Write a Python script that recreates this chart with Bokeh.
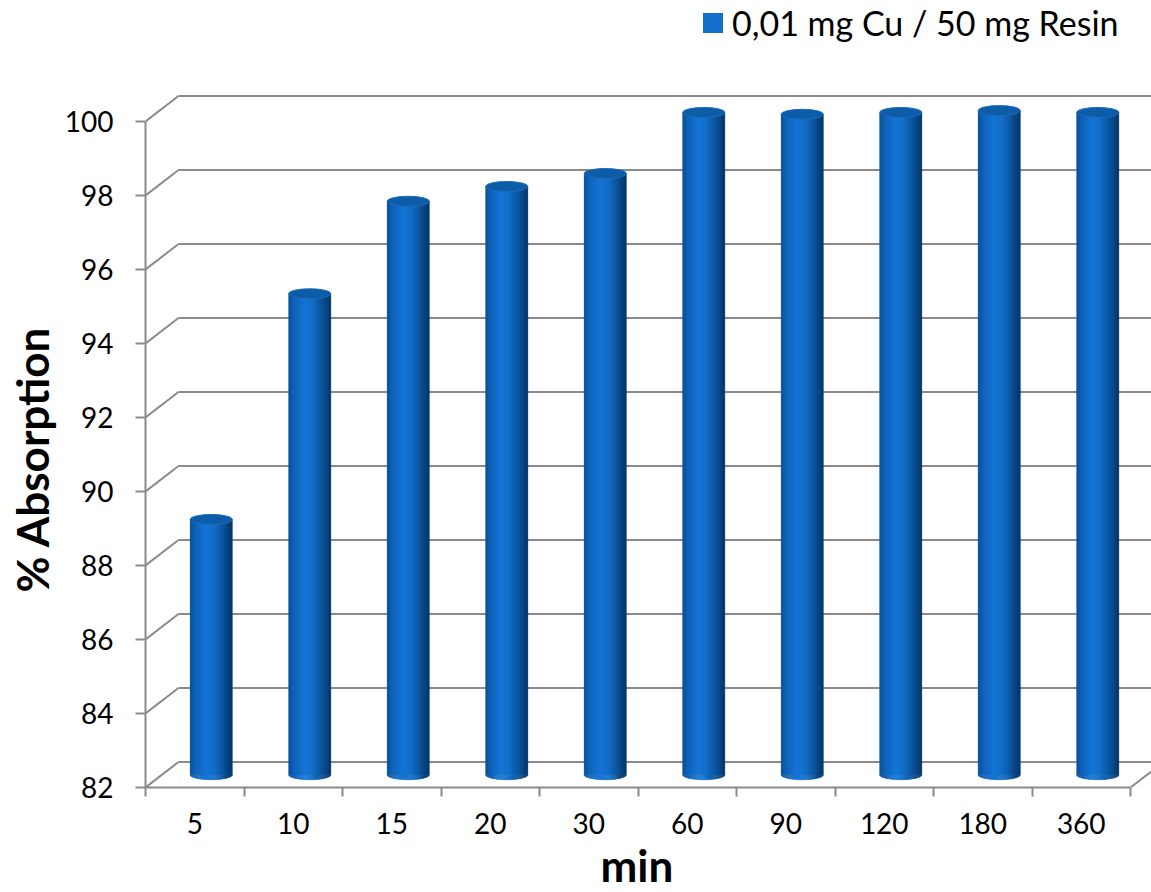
import numpy as np
from bokeh.plotting import figure
from bokeh.models import Range1d, FixedTicker, Legend, LegendItem, Title
from bokeh.embed import file_html
from bokeh.resources import INLINE

# ---- data ----
categories = ["5", "10", "15", "20", "30", "60", "90", "120", "180", "360"]
absorption = [88.9, 95.0, 97.5, 97.9, 98.25, 99.9, 99.85, 99.9, 99.95, 99.9]
y_ticks = [82, 84, 86, 88, 90, 92, 94, 96, 98, 100]
series_name = "0,01 mg Cu / 50 mg Resin"
x_title = "min"
y_title = "% Absorption"

# ---- geometry (3D look) ----
PX_X = 98.5   # px per category
PX_Y = 37.0   # px per % unit
DX = 33 / PX_X        # depth offset in x (data units)
DY = 25.5 / PX_Y      # depth offset in y (data units)
BAR_W = 42 / PX_X
CAP_H = 10 / PX_Y
Y0 = y_ticks[0]
N_CAT = len(categories)
X_END = 1006 / PX_X
Y_END = Y0 + 787 / PX_Y
GRID = "#8a8a8a"
FONT = "Lato"

p = figure(width=1151, height=892, x_range=Range1d(0, X_END), y_range=Range1d(Y0, Y_END),
           output_backend="svg", toolbar_location=None,
           min_border_left=145, min_border_right=0, min_border_top=0, min_border_bottom=105)
p.outline_line_color = None
p.xgrid.visible = False
p.ygrid.visible = False

# perspective gridlines (back wall + side wall)
sx0, sy0, sx1, sy1 = [], [], [], []
for v in y_ticks:
    sx0 += [0, DX]; sy0 += [v, v + DY]
    sx1 += [DX, X_END]; sy1 += [v + DY, v + DY]
sx0.append(N_CAT); sy0.append(Y0); sx1.append(N_CAT + DX); sy1.append(Y0 + DY)
p.segment(x0=sx0, y0=sy0, x1=sx1, y1=sy1, line_color=GRID, line_width=2)

# cylinders
cx = np.arange(N_CAT) + 0.5 + DX / 2
base = Y0 + DY / 2
tops = np.array(absorption) + DY / 2

body = p.quad(left=cx - BAR_W / 2, right=cx + BAR_W / 2, bottom=[base] * N_CAT, top=tops,
              fill_color="#1470cc", line_color=None)

stops_t = [-1.0, -0.75, -0.25, 0.15, 0.6, 1.0]
stops_c = [(12, 80, 150), (16, 98, 182), (22, 118, 214), (20, 110, 200), (13, 82, 152), (7, 52, 100)]
N = 40
te = np.linspace(-1, 1, N + 1)
tm = (te[:-1] + te[1:]) / 2
cols = []
for t in tm:
    rgb = [int(round(np.interp(t, stops_t, [c[k] for c in stops_c]))) for k in range(3)]
    cols.append("#%02x%02x%02x" % tuple(rgb))
L, R, B, T, C = [], [], [], [], []
for i in range(N_CAT):
    for k in range(N):
        L.append(cx[i] + te[k] * BAR_W / 2)
        R.append(cx[i] + te[k + 1] * BAR_W / 2)
        B.append(base - CAP_H / 2 * np.sqrt(max(0.0, 1 - tm[k] ** 2)))
        T.append(tops[i])
        C.append(cols[k])
p.quad(left=L, right=R, bottom=B, top=T, fill_color=C, line_color=C, line_width=0.5)
p.ellipse(x=cx, y=tops, width=BAR_W, height=CAP_H, fill_color="#0d5ca8", line_color="#1a6cbc", line_width=1)

# axes
xa = p.xaxis[0]
xa.ticker = FixedTicker(ticks=[i + 0.5 for i in range(N_CAT)], minor_ticks=list(range(N_CAT + 1)))
xa.major_label_overrides = {i + 0.5: c for i, c in enumerate(categories)}
xa.bounds = (0, N_CAT)
xa.axis_line_color = GRID
xa.axis_line_width = 2
xa.major_tick_line_color = None
xa.minor_tick_line_color = GRID
xa.minor_tick_line_width = 2
xa.minor_tick_in = 0
xa.minor_tick_out = 9
xa.major_label_standoff = 16
xa.major_label_text_font = FONT
xa.major_label_text_font_size = "28px"
xa.major_label_text_color = "black"

ya = p.yaxis[0]
ya.ticker = FixedTicker(ticks=y_ticks, minor_ticks=[])
ya.bounds = (Y0, y_ticks[-1])
ya.axis_line_color = GRID
ya.axis_line_width = 2
ya.major_tick_line_color = GRID
ya.major_tick_line_width = 2
ya.major_tick_in = 0
ya.major_tick_out = 10
ya.minor_tick_line_color = None
ya.major_label_standoff = 22
ya.major_label_text_font = FONT
ya.major_label_text_font_size = "28px"
ya.major_label_text_color = "black"

# axis titles (side-panel titles, aligned to the axis extent)
p.add_layout(Title(text=y_title, align="left", offset=195, standoff=7, text_font=FONT,
                   text_font_style="bold", text_font_size="44px", text_color="black"), "left")
p.add_layout(Title(text=x_title, align="left", offset=455, standoff=0, text_font=FONT,
                   text_font_style="bold", text_font_size="44px", text_color="black"), "below")

legend = Legend(items=[LegendItem(label=series_name, renderers=[body])],
                location=(703 - 145 - 3, 787 - 43), orientation="horizontal",
                glyph_width=25, glyph_height=25, label_standoff=7, padding=0, margin=0, spacing=0,
                border_line_color=None, background_fill_alpha=0,
                label_text_font=FONT, label_text_font_size="34px", label_text_color="black")
p.add_layout(legend)

open("out.html", "w").write(file_html(p, INLINE))
